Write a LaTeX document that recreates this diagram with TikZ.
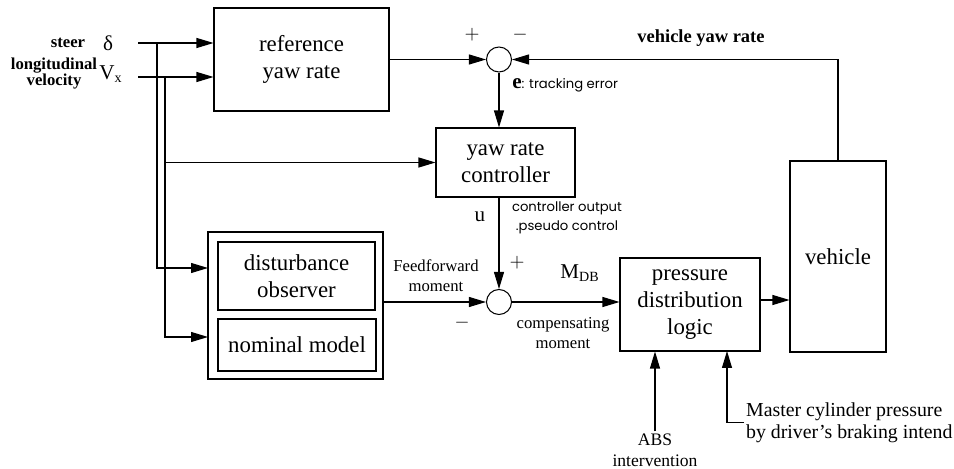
\documentclass[tikz,border=0pt]{standalone}
\usepackage{fontspec}
\setmainfont{Liberation Serif}
\newfontfamily\lblsans{Poppins}
\usetikzlibrary{positioning, arrows.meta, calc}

\begin{document}
\begin{tikzpicture}[x=0.02cm, y=-0.02cm,
    blk/.style={draw, line width=0.6pt, align=center, inner sep=0pt,
                font=\fontsize{13}{15.5}\selectfont},
    sumc/.style={draw, circle, line width=0.6pt, minimum size=0.5cm, inner sep=0pt},
    lbl/.style={align=center, inner sep=1pt, font=\fontsize{9.5}{11.5}\selectfont},
    inlbl/.style={align=center, inner sep=1pt, font=\bfseries\fontsize{9.5}{9.5}\selectfont},
    sanslbl/.style={align=center, inner sep=1pt, font=\lblsans\fontsize{7.5}{11}\selectfont},
    sgn/.style={inner sep=0pt, font=\fontsize{11}{11}\selectfont},
    sig/.style={-{Triangle[length=3.4mm,width=2mm]}, line width=0.6pt},
    wire/.style={line width=0.6pt}]
    \useasboundingbox (0,0) rectangle (954,469);

    % blocks
    \node[blk, minimum width=3.5cm, minimum height=2.06cm] (ref) at (301.5,59.5) {reference\\yaw rate};
    \node[sumc] (s1) at (499,59.5) {};
    \node[blk, minimum width=2.78cm, minimum height=1.38cm] (ctrl) at (505.5,162.5) {yaw rate\\controller};
    \node[blk, minimum width=3.5cm, minimum height=2.94cm] (obs) at (295.5,305.5) {};
    \node[blk, minimum width=3.14cm, minimum height=1.36cm] (dob) at (296.5,276) {disturbance\\observer};
    \node[blk, minimum width=3.16cm, minimum height=1.04cm] (nom) at (297,345) {nominal model};
    \node[sumc] (s2) at (499,302) {};
    \node[blk, minimum width=2.8cm, minimum height=1.86cm] (pdl) at (690,304.5) {pressure\\distribution\\logic};
    \node[blk, minimum width=1.92cm, minimum height=3.82cm] (veh) at (838,256.5) {vehicle};

    % inputs
    \node[inlbl] (steer) at (68,43) {steer};
    \node[inlbl] (lon) at (54,73.5) {longitudinal\\velocity};
    \node[sgn, font=\fontsize{12}{12}\selectfont] (del) at (108,43) {δ};
    \node[sgn, font=\fontsize{12}{12}\selectfont] (vx) at (111,74) {$\mathrm{V}_{\mathrm{x}}$};
    \coordinate (in1) at (138,43);
    \coordinate (in2) at (138,77);
    \coordinate (j1) at (157,43);
    \coordinate (j2) at (165,77);
    \coordinate (dobin) at (208,268);
    \coordinate (nomin) at (208,337);

    \draw[sig] (in1) -- (ref.west |- in1);
    \draw[sig] (in2) -- (ref.west |- in2);
    \draw[sig] (j1) |- (dobin);
    \draw[sig] (j2) |- (nomin);
    \draw[sig] (j2 |- ctrl) -- (ctrl.west);

    % loop
    \draw[sig] (ref.east) -- (s1.west);
    \draw[sig] (veh.north) |- (s1.east);
    \draw[sig] (s1.south) -- (s1.south |- ctrl.north);
    \draw[sig] (s1 |- ctrl.south) -- (s2.north);
    \draw[sig] (obs.east |- s2) -- (s2.west);
    \draw[sig] (s2.east) -- (pdl.west |- s2);
    \draw[sig] (pdl.east |- 0,300) -- (veh.west |- 0,300);

    % brake inputs
    \node[lbl, font=\fontsize{10}{12}\selectfont] (abs) at (655,450) {ABS\\intervention};
    \draw[sig] (abs.north) -- (abs.north |- pdl.south);
    \node[lbl, anchor=west, align=left, font=\fontsize{11.3}{12.5}\selectfont] (mcp) at (744,422.5) {Master cylinder pressure\\by driver's braking intend};
    \coordinate (mcin) at (727,351);
    \draw[sig] (mcp.west) -| (mcin);

    % labels
    \node[sgn] (p1) at (472,35) {$+$};
    \node[sgn] (m1) at (520,35) {$-$};
    \node[inlbl, font=\bfseries\fontsize{10.5}{12}\selectfont] (vyr) at (701,38) {vehicle yaw rate};
    \node[anchor=west, inner sep=0pt] (err) at (512,85) {{\fontsize{12}{12}\selectfont\bfseries e}{\lblsans\fontsize{7.5}{9}\selectfont: tracking error}};
    \node[sgn, font=\fontsize{12}{12}\selectfont] (u) at (480,217) {u};
    \node[sanslbl] (cout) at (567,218) {controller output\\.pseudo control};
    \node[sgn] (p2) at (517,263) {$+$};
    \node[sgn] (m2) at (462,323) {$-$};
    \node[lbl] (ff) at (436,276) {Feedforward\\moment};
    \node[sgn, font=\fontsize{12}{12}\selectfont] (mdb) at (580,273) {$\mathrm{M}_{\mathrm{DB}}$};
    \node[lbl] (comp) at (563,333) {compensating\\moment};
\end{tikzpicture}
\end{document}
